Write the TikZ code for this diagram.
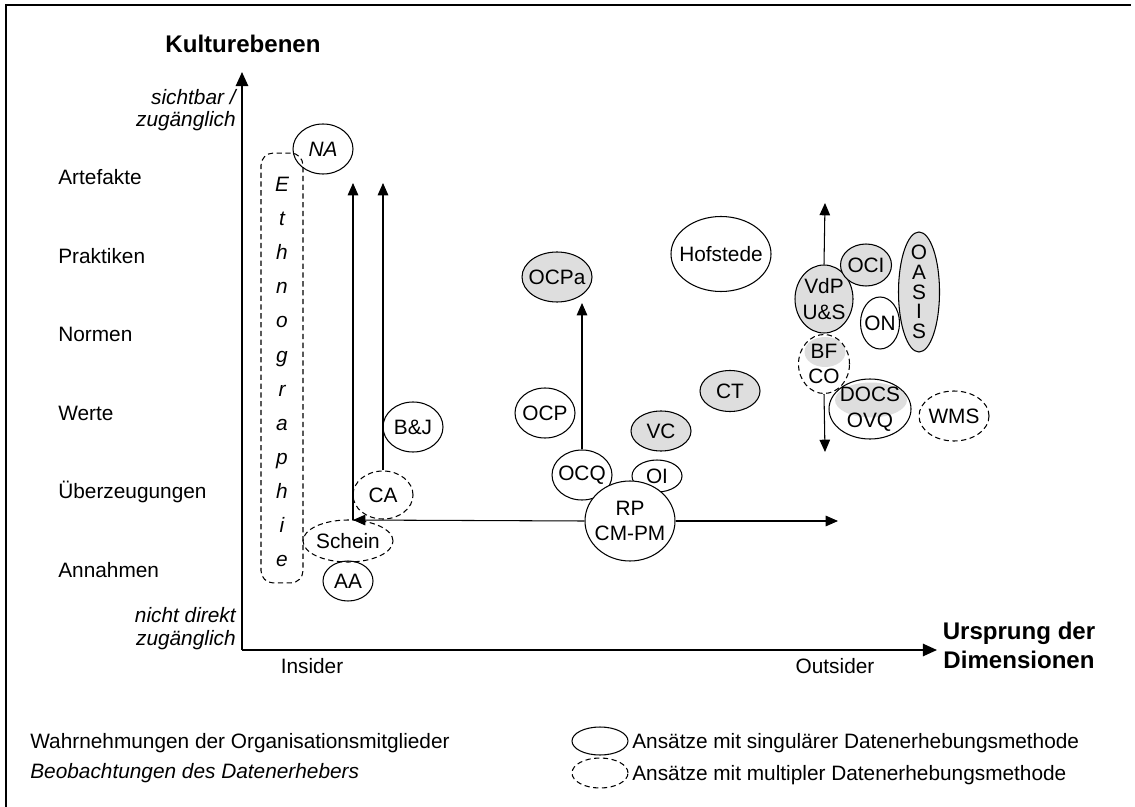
\documentclass[tikz,border=0pt]{standalone}
\usepackage{fontspec}
\setmainfont{Liberation Sans}
\usetikzlibrary{shapes.geometric,arrows.meta}
\definecolor{hellgrau}{gray}{0.87}
\tikzset{
  ansatz/.style 2 args={ellipse,draw,line width=0.6pt,inner sep=0pt,
    minimum width=#1*0.02cm,minimum height=#2*0.02cm},
  multi/.style 2 args={ansatz={#1}{#2},dash pattern=on 3pt off 2pt},
  grau/.style={fill=hellgrau},
  unterlage/.style 2 args={ellipse,fill=hellgrau,inner sep=0pt,
    minimum width=#1*0.02cm,minimum height=#2*0.02cm},
  pfeil/.style={line width=0.6pt,-{Triangle[length=7pt,width=6pt]}},
  achse/.style={line width=1pt,-{Triangle[length=8pt,width=7pt]}},
  titel/.style={font=\bfseries\fontsize{13.7}{16}\selectfont,align=center},
  pol/.style={anchor=base east,font=\itshape\fontsize{11.85}{12.8}\selectfont,align=right},
  every label/.style={align=center,inner sep=0pt},
}
\begin{document}
\fontsize{11.85}{14.5}\selectfont
\begin{tikzpicture}[x=0.02cm,y=-0.02cm,inner sep=0pt]
\useasboundingbox (0,0) rectangle (1135,807);
\draw[line width=1.2pt] (6,807) -- (6,5) -- (1131,5);

\coordinate (ursprung) at (242,650);
\coordinate (oben) at (242,72);
\coordinate (rechts) at (937,650);
\draw[achse] (ursprung) -- (oben);
\draw[achse] (ursprung) -- (rechts);

\node[titel,anchor=base] (kultur) at (243,53) {Kulturebenen};
\node[titel,anchor=base] (dimension) at (1019,668) {Ursprung der\\Dimensionen};
\node[pol] (sicht) at (236,127) {sichtbar /\\zugänglich};
\node[pol] (nicht) at (236,645) {nicht direkt\\zugänglich};
\node[anchor=base] (insider) at (312,673) {Insider};
\node[anchor=base] (outsider) at (835,673) {Outsider};

\foreach \ebene [count=\i from 0] in {Artefakte,Praktiken,Normen,Werte,Überzeugungen,Annahmen}
  \node[anchor=base west] (ebene\i) at (58,185+78.4*\i) {\ebene};

\node[draw,line width=0.6pt,dash pattern=on 3pt off 2pt,rounded corners=7pt,
  minimum width=0.84cm,minimum height=8.6cm] (ethno) at (282,368) {};
\foreach \b [count=\i from 0] in {E,t,h,n,o,g,r,a,p,h,i,e}
  \node[anchor=base,font=\itshape] at (282,192+34*\i) {\b};

\node[ansatz={60}{50},label=center:\textit{NA}] (na) at (323,149) {};
\node[multi={60}{48},label=center:CA] (ca) at (383,495) {};
\node[ansatz={60}{50},label=center:B\&J] (bj) at (413,427) {};
\node[multi={90}{42},label=center:Schein] (schein) at (348,541) {};
\node[ansatz={50}{40},label=center:AA] (aa) at (348,581) {};

\node[ansatz={70}{50},grau,label=center:OCPa] (ocpa) at (557,277) {};
\node[ansatz={60}{50},label=center:OCP] (ocp) at (545,413) {};
\node[ansatz={60}{50},label=center:OCQ] (ocq) at (582,475) {};
\node[ansatz={50}{32},label=center:OI] (oi) at (657,476) {};
\node[ansatz={60}{40},grau,label=center:VC] (vc) at (661,431) {};
\node[ansatz={60}{41},grau,label=center:CT] (ct) at (730,391) {};
\node[ansatz={100}{75},label=center:Hofstede] (hofstede) at (721,254) {};
\node[ansatz={90}{80},fill=white,label=center:RP\\CM-PM] (rp) at (630,521) {};

\node[ansatz={58}{68},grau,label=center:VdP\\U\&S] (vdp) at (824,299) {};
\node[ansatz={51}{42},grau,label=center:OCI] (oci) at (866,265) {};
\node[ansatz={41}{120},grau,label={[font=\fontsize{11.85}{11.2}\selectfont]center:O\\A\\S\\I\\S}] (oasis) at (919,292) {};
\node[ansatz={39}{52},label=center:ON] (on) at (880,323) {};
\node[unterlage={41}{30}] at (825,352) {};
\node[multi={51}{59},label=center:BF\\CO] (bfco) at (824,364) {};
\node[unterlage={72}{35}] at (871,400) {};
\node[ansatz={82}{60},label=center:DOCS\\OVQ] (docs) at (870,409) {};
\node[multi={70}{50},label=center:WMS] (wms) at (954,416) {};

\coordinate (ecke) at (353,520);
\coordinate (ecke oben) at (353,183);
\coordinate (ca oben) at (383,183);
\coordinate (ocpa unten) at (582,303);
\coordinate (rp rechts) at (838,521);
\coordinate (vdp oben) at (825,203);
\coordinate (bfco unten) at (825,452);
\draw[pfeil] (rp.west) -- (ecke);
\draw[pfeil] (ecke) -- (ecke oben);
\draw[pfeil] (ca.north) -- (ca oben);
\draw[pfeil] (rp.east) -- (rp rechts);
\draw[pfeil] (ocq.north) -- (ocpa unten);
\draw[pfeil] (vdp.north) -- (vdp oben);
\draw[pfeil] (bfco.south) -- (bfco unten);

\node[anchor=base west] (wahr) at (30,748) {Wahrnehmungen der Organisationsmitglieder};
\node[anchor=base west,font=\itshape] (beob) at (30,778) {Beobachtungen des Datenerhebers};
\node[ansatz={56}{28}] (leg1) at (600,741) {};
\node[multi={56}{30}] (leg2) at (600,773) {};
\node[anchor=base west] at (632,748) {Ansätze mit singulärer Datenerhebungsmethode};
\node[anchor=base west] at (632,780) {Ansätze mit multipler Datenerhebungsmethode};
\end{tikzpicture}
\end{document}
